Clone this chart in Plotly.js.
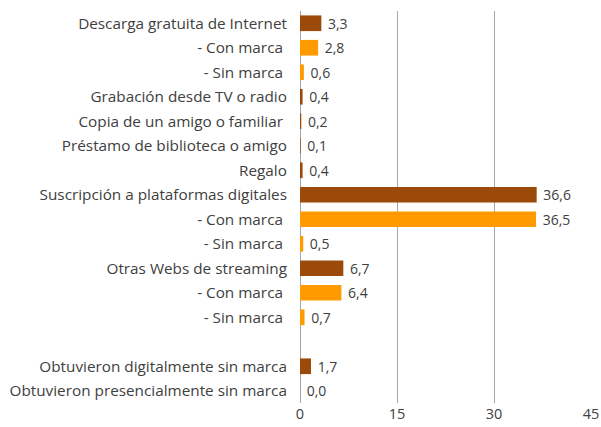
<!DOCTYPE html>
<html>
<head>
<meta charset="utf-8">
<script src="https://cdn.plot.ly/plotly-3.0.1.min.js"></script>
<style>
  html, body { margin: 0; padding: 0; background: #fff; }
  #chart { width: 601px; height: 427px; }
</style>
</head>
<body>
<div id="chart"></div>
<script>
// Origen de la obtención de contenidos (en %), de arriba abajo
const labels = [
  "Descarga gratuita de Internet",
  "- Con marca\u00a0",
  "- Sin marca\u00a0",
  "Grabación desde TV o radio",
  "Copia de un amigo o familiar\u00a0",
  "Préstamo de biblioteca o amigo",
  "Regalo",
  "Suscripción a plataformas digitales",
  "- Con marca\u00a0",
  "- Sin marca\u00a0",
  "Otras Webs de streaming",
  "- Con marca\u00a0",
  "- Sin marca\u00a0",
  "",
  "Obtuvieron digitalmente sin marca",
  "Obtuvieron presencialmente sin marca"
];
const values = [3.3, 2.8, 0.6, 0.4, 0.2, 0.1, 0.4, 36.6, 36.5, 0.5, 6.7, 6.4, 0.7, null, 1.7, 0.0];
// "main" = categoría principal, "sub" = desglose con/sin marca
const kinds = ["main", "sub", "sub", "main", "main", "main", "main", "main", "sub", "sub", "main", "sub", "sub", null, "main", "main"];
const xTicks = [0, 15, 30, 45];

const colors = { main: "#9b4a0a", sub: "#ff9a00" };
const FONT = "'Open Sans', sans-serif";

const pos = labels.map((_, i) => i);
const shown = pos.filter(i => values[i] !== null);

const trace = {
  type: "bar",
  orientation: "h",
  y: shown.map(i => i),
  x: shown.map(i => values[i]),
  marker: {
    color: shown.map(i => colors[kinds[i]]),
    line: { width: 0 }
  },
  text: shown.map(i => "\u00a0" + values[i].toFixed(1).replace(".", ",")),
  textposition: "outside",
  constraintext: "none",
  cliponaxis: false,
  textfont: { family: FONT, size: 14, color: "#404040" },
  hoverinfo: "none"
};

const layout = {
  width: 601,
  height: 427,
  margin: { l: 300, r: 10, t: 11, b: 24 },
  paper_bgcolor: "#ffffff",
  plot_bgcolor: "#ffffff",
  showlegend: false,
  bargap: 0.36,
  font: { family: FONT, size: 15, color: "#404040" },
  xaxis: {
    range: [0, 45],
    tickvals: xTicks,
    ticktext: xTicks.map(String),
    showgrid: true,
    gridcolor: "#a6a6a6",
    gridwidth: 1,
    zeroline: true,
    zerolinecolor: "#a6a6a6",
    zerolinewidth: 1,
    showline: false,
    ticks: "",
    tickfont: { family: FONT, size: 14.5, color: "#404040" },
    fixedrange: true
  },
  yaxis: {
    range: [labels.length - 0.5, -0.5],
    tickvals: pos,
    ticktext: labels,
    showgrid: false,
    zeroline: false,
    showline: false,
    ticks: "outside",
    ticklen: 9,
    tickcolor: "rgba(0,0,0,0)",
    tickfont: { family: FONT, size: 15.3, color: "#404040" },
    fixedrange: true
  }
};

Plotly.newPlot("chart", [trace], layout, { displayModeBar: false, staticPlot: true });
</script>
</body>
</html>
